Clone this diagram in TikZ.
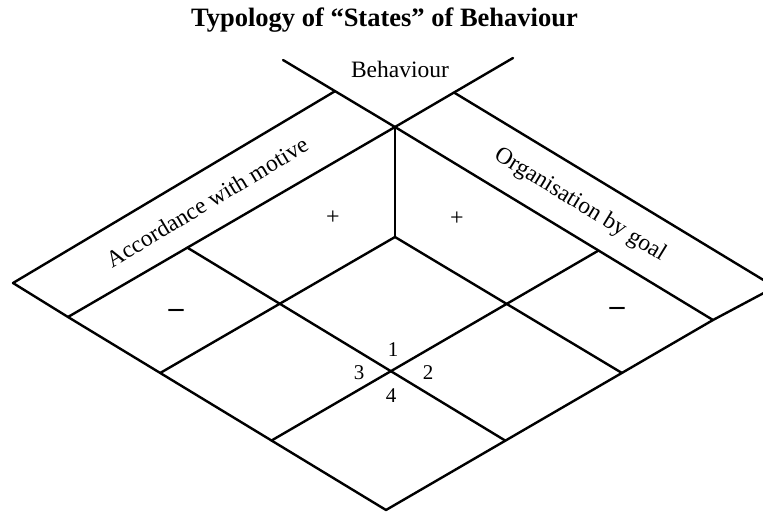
\documentclass[tikz,border=0pt]{standalone}
\usepackage{fontspec}
\setmainfont{Liberation Serif}
\usetikzlibrary{calc}
\tikzset{
  edge/.style={line width=2.4pt, line cap=round, line join=round},
  lbl/.style={inner sep=0pt, font=\fontsize{23.5}{26}\selectfont},
  sign/.style={inner sep=0pt, font=\fontsize{24}{26}\selectfont},
  num/.style={inner sep=0pt, font=\fontsize{21}{23}\selectfont},
}
\begin{document}
\begin{tikzpicture}[x=1pt,y=-1pt]
\clip (0,0) rectangle (763,512);
% key points (pixel coordinates, y downwards)
\coordinate (A) at (395,127);
\coordinate (BL) at (283,60);
\coordinate (BR) at (513,58);
\coordinate (L) at (68,317);
\coordinate (R) at (713,320);
\coordinate (B) at (386,510);
\coordinate (S1) at ($(A)!0.535!(BL)$);
\coordinate (S2) at (13,283);
\coordinate (S3) at ($(A)!0.5!(BR)$);
\coordinate (S4) at (775,287);
\coordinate (Pi) at (395,237);
\coordinate (Gq1) at ($(A)!0.635!(L)$);
\coordinate (Gq2) at ($(R)!0.635!(B)$);
\coordinate (Gp1) at ($(A)!0.64!(R)$);
\coordinate (Gp2) at ($(L)!0.64!(B)$);
\coordinate (Pl) at ($(L)!0.29!(B)$);
\coordinate (Pr) at (622,373);
% title
\node[inner sep=0pt, font=\bfseries\fontsize{26.5}{30}\selectfont] (title) at (384.5,20) {Typology of “States” of Behaviour};
% main lines
\draw[edge] (BL) -- (A) -- (R);
\draw[edge] (BR) -- (A) -- (L);
\draw[edge] (S1) -- (S2) -- (L);
\draw[edge] (S3) -- (S4) -- (R);
\draw[edge] (L) -- (B) -- (R);
\draw[edge] (A) -- (Pi);
\draw[edge] (Pl) -- (Pi) -- (Pr);
\draw[edge] (Gq1) -- (Gq2);
\draw[edge] (Gp1) -- (Gp2);
% labels
\node[lbl, anchor=base] (beh) at (400,77) {Behaviour};
\node[lbl, rotate=31] (acc) at (207,202) {Accordance with motive};
\node[lbl, rotate=-31.5] (org) at (580,205) {Organisation by goal};
\node[sign] (p1) at (333,218) {+};
\node[sign] (p2) at (457,219) {+};
\node[sign, font=\bfseries\fontsize{30}{32}\selectfont] (m1) at (176,313) {–};
\node[sign, font=\bfseries\fontsize{30}{32}\selectfont] (m2) at (617,311) {–};
\node[num] (n1) at (393,350) {1};
\node[num] (n2) at (428,373) {2};
\node[num] (n3) at (359,373) {3};
\node[num] (n4) at (391,396) {4};
\end{tikzpicture}
\end{document}
